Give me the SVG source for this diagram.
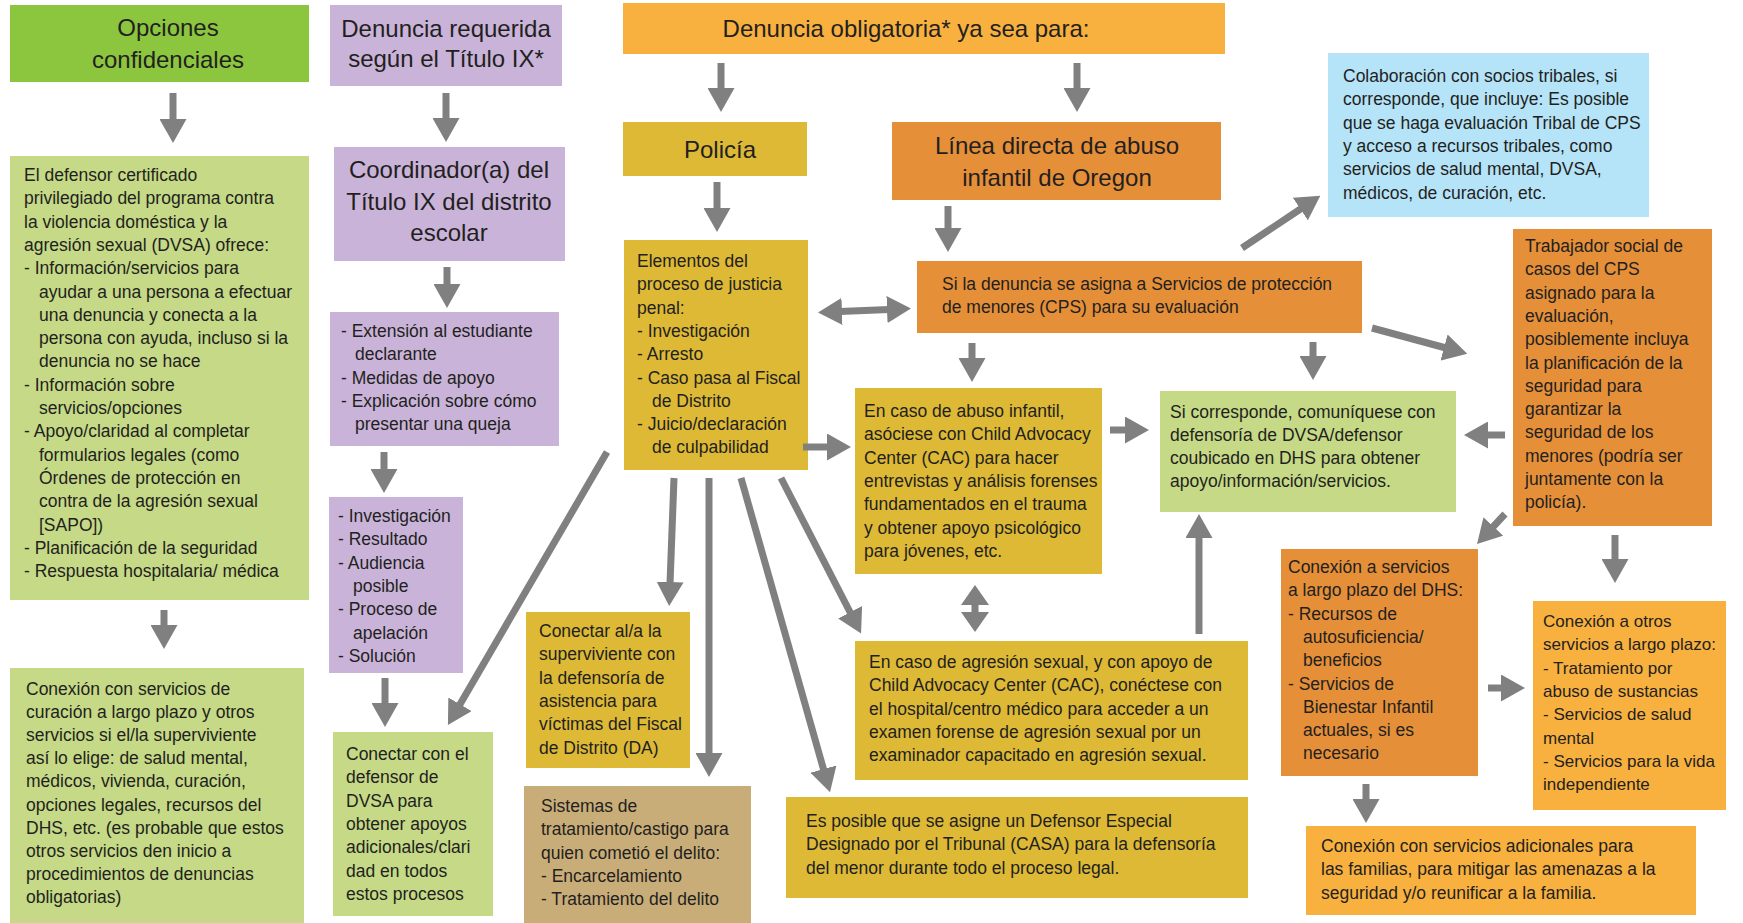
<svg xmlns="http://www.w3.org/2000/svg" width="1743" height="923" viewBox="0 0 1743 923">
<style>
.t{font-family:"Liberation Sans",Arial,sans-serif;font-size:17.5px;fill:#231f20}
.s{font-size:17px}
.h{font-family:"Liberation Sans",Arial,sans-serif;font-size:24px;fill:#231f20;text-anchor:middle}
.green{fill:#8cc63f}.lgreen{fill:#c5d986}.purple{fill:#c9b3d9}.yorange{fill:#f8b13f}
.gold{fill:#ddb935}.orange{fill:#e58f39}.blue{fill:#b5e3f8}.tan{fill:#c9ad78}
.conn line{stroke:#808080;stroke-width:7;marker-end:url(#ah)}
.conn line.dbl{marker-start:url(#ah)}
</style>
<defs>
<marker id="ah" markerUnits="userSpaceOnUse" markerWidth="24" markerHeight="27" refX="2" refY="13.5" orient="auto-start-reverse" viewBox="0 0 24 27">
<path d="M0,0 L24,13.5 L0,27 z" fill="#808080"/>
</marker>
</defs>
<rect width="1743" height="923" fill="#ffffff"/>

<g id="opciones"><rect class="green" x="10" y="5" width="299" height="77"/>
<text class="h" x="168" y="36">Opciones</text><text class="h" x="168" y="68">confidenciales</text></g>

<g id="denuncia-requerida"><rect class="purple" x="330" y="5" width="232" height="81"/>
<text class="h" x="446" y="37">Denuncia requerida</text><text class="h" x="446" y="67">según el Título IX*</text></g>

<g id="denuncia-obligatoria"><rect class="yorange" x="623" y="3" width="602" height="51"/>
<text class="h" x="906" y="37">Denuncia obligatoria* ya sea para:</text></g>

<g id="defensor"><rect class="lgreen" x="10" y="156" width="299" height="444"/>
<text class="t" y="181">
<tspan x="24">El defensor certificado</tspan>
<tspan x="24" dy="23.3">privilegiado del programa contra</tspan>
<tspan x="24" dy="23.3">la violencia doméstica y la</tspan>
<tspan x="24" dy="23.3">agresión sexual (DVSA) ofrece:</tspan>
<tspan x="24" dy="23.3">- Información/servicios para</tspan>
<tspan x="39" dy="23.3">ayudar a una persona a efectuar</tspan>
<tspan x="39" dy="23.3">una denuncia y conecta a la</tspan>
<tspan x="39" dy="23.3">persona con ayuda, incluso si la</tspan>
<tspan x="39" dy="23.3">denuncia no se hace</tspan>
<tspan x="24" dy="23.3">- Información sobre</tspan>
<tspan x="39" dy="23.3">servicios/opciones</tspan>
<tspan x="24" dy="23.3">- Apoyo/claridad al completar</tspan>
<tspan x="39" dy="23.3">formularios legales (como</tspan>
<tspan x="39" dy="23.3">Órdenes de protección en</tspan>
<tspan x="39" dy="23.3">contra de la agresión sexual</tspan>
<tspan x="39" dy="23.3">[SAPO])</tspan>
<tspan x="24" dy="23.3">- Planificación de la seguridad</tspan>
<tspan x="24" dy="23.3">- Respuesta hospitalaria/ médica</tspan>
</text></g>

<g id="curacion"><rect class="lgreen" x="10" y="668" width="294" height="255"/>
<text class="t" y="695">
<tspan x="26">Conexión con servicios de</tspan>
<tspan x="26" dy="23.1">curación a largo plazo y otros</tspan>
<tspan x="26" dy="23.1">servicios si el/la superviviente</tspan>
<tspan x="26" dy="23.1">así lo elige: de salud mental,</tspan>
<tspan x="26" dy="23.1">médicos, vivienda, curación,</tspan>
<tspan x="26" dy="23.1">opciones legales, recursos del</tspan>
<tspan x="26" dy="23.1">DHS, etc. (es probable que estos</tspan>
<tspan x="26" dy="23.1">otros servicios den inicio a</tspan>
<tspan x="26" dy="23.1">procedimientos de denuncias</tspan>
<tspan x="26" dy="23.1">obligatorias)</tspan>
</text></g>

<g id="coordinador"><rect class="purple" x="334" y="147" width="231" height="114"/>
<text class="h" x="449" y="178">Coordinador(a) del</text><text class="h" x="449" y="210">Título IX del distrito</text><text class="h" x="449" y="241">escolar</text></g>

<g id="extension"><rect class="purple" x="330" y="312" width="229" height="134"/>
<text class="t" y="337">
<tspan x="341">- Extensión al estudiante</tspan>
<tspan x="355" dy="23.3">declarante</tspan>
<tspan x="341" dy="23.3">- Medidas de apoyo</tspan>
<tspan x="341" dy="23.3">- Explicación sobre cómo</tspan>
<tspan x="355" dy="23.3">presentar una queja</tspan>
</text></g>

<g id="investigacion"><rect class="purple" x="329" y="497" width="134" height="176"/>
<text class="t" y="522">
<tspan x="338">- Investigación</tspan>
<tspan x="338" dy="23.3">- Resultado</tspan>
<tspan x="338" dy="23.3">- Audiencia</tspan>
<tspan x="353" dy="23.3">posible</tspan>
<tspan x="338" dy="23.3">- Proceso de</tspan>
<tspan x="353" dy="23.3">apelación</tspan>
<tspan x="338" dy="23.3">- Solución</tspan>
</text></g>

<g id="conectar-dvsa"><rect class="lgreen" x="333" y="732" width="160" height="184"/>
<text class="t" y="760">
<tspan x="346">Conectar con el</tspan>
<tspan x="346" dy="23.3">defensor de</tspan>
<tspan x="346" dy="23.3">DVSA para</tspan>
<tspan x="346" dy="23.3">obtener apoyos</tspan>
<tspan x="346" dy="23.3">adicionales/clari</tspan>
<tspan x="346" dy="23.3">dad en todos</tspan>
<tspan x="346" dy="23.3">estos procesos</tspan>
</text></g>

<g id="policia"><rect class="gold" x="623" y="122" width="184" height="54"/>
<text class="h" x="720" y="158">Policía</text></g>

<g id="linea-directa"><rect class="orange" x="892" y="122" width="329" height="78"/>
<text class="h" x="1057" y="154">Línea directa de abuso</text><text class="h" x="1057" y="186">infantil de Oregon</text></g>

<g id="elementos"><rect class="gold" x="624" y="240" width="184" height="230"/>
<text class="t" y="267">
<tspan x="637">Elementos del</tspan>
<tspan x="637" dy="23.3">proceso de justicia</tspan>
<tspan x="637" dy="23.3">penal:</tspan>
<tspan x="637" dy="23.3">- Investigación</tspan>
<tspan x="637" dy="23.3">- Arresto</tspan>
<tspan x="637" dy="23.3">- Caso pasa al Fiscal</tspan>
<tspan x="652" dy="23.3">de Distrito</tspan>
<tspan x="637" dy="23.3">- Juicio/declaración</tspan>
<tspan x="652" dy="23.3">de culpabilidad</tspan>
</text></g>

<g id="cps"><rect class="orange" x="917" y="261" width="445" height="72"/>
<text class="t" y="290">
<tspan x="942">Si la denuncia se asigna a Servicios de protección</tspan>
<tspan x="942" dy="23.3">de menores (CPS) para su evaluación</tspan>
</text></g>

<g id="cac"><rect class="gold" x="855" y="388" width="247" height="186"/>
<text class="t" y="417">
<tspan x="864">En caso de abuso infantil,</tspan>
<tspan x="864" dy="23.3">asóciese con Child Advocacy</tspan>
<tspan x="864" dy="23.3">Center (CAC) para hacer</tspan>
<tspan x="864" dy="23.3">entrevistas y análisis forenses</tspan>
<tspan x="864" dy="23.3">fundamentados en el trauma</tspan>
<tspan x="864" dy="23.3">y obtener apoyo psicológico</tspan>
<tspan x="864" dy="23.3">para jóvenes, etc.</tspan>
</text></g>

<g id="agresion"><rect class="gold" x="855" y="641" width="393" height="139"/>
<text class="t" y="668">
<tspan x="869">En caso de agresión sexual, y con apoyo de</tspan>
<tspan x="869" dy="23.3">Child Advocacy Center (CAC), conéctese con</tspan>
<tspan x="869" dy="23.3">el hospital/centro médico para acceder a un</tspan>
<tspan x="869" dy="23.3">examen forense de agresión sexual por un</tspan>
<tspan x="869" dy="23.3">examinador capacitado en agresión sexual.</tspan>
</text></g>

<g id="casa"><rect class="gold" x="786" y="797" width="462" height="101"/>
<text class="t" y="827">
<tspan x="806">Es posible que se asigne un Defensor Especial</tspan>
<tspan x="806" dy="23.3">Designado por el Tribunal (CASA) para la defensoría</tspan>
<tspan x="806" dy="23.3">del menor durante todo el proceso legal.</tspan>
</text></g>

<g id="conectar-superviviente"><rect class="gold" x="526" y="612" width="164" height="156"/>
<text class="t" y="637">
<tspan x="539">Conectar al/a la</tspan>
<tspan x="539" dy="23.3">superviviente con</tspan>
<tspan x="539" dy="23.3">la defensoría de</tspan>
<tspan x="539" dy="23.3">asistencia para</tspan>
<tspan x="539" dy="23.3">víctimas del Fiscal</tspan>
<tspan x="539" dy="23.3">de Distrito (DA)</tspan>
</text></g>

<g id="sistemas"><rect class="tan" x="524" y="786" width="227" height="137"/>
<text class="t" y="812">
<tspan x="541">Sistemas de</tspan>
<tspan x="541" dy="23.3">tratamiento/castigo para</tspan>
<tspan x="541" dy="23.3">quien cometió el delito:</tspan>
<tspan x="541" dy="23.3">- Encarcelamiento</tspan>
<tspan x="541" dy="23.3">- Tratamiento del delito</tspan>
</text></g>

<g id="dvsa-dhs"><rect class="lgreen" x="1160" y="391" width="296" height="121"/>
<text class="t" y="418">
<tspan x="1170">Si corresponde, comuníquese con</tspan>
<tspan x="1170" dy="23">defensoría de DVSA/defensor</tspan>
<tspan x="1170" dy="23">coubicado en DHS para obtener</tspan>
<tspan x="1170" dy="23">apoyo/información/servicios.</tspan>
</text></g>

<g id="tribal"><rect class="blue" x="1328" y="53" width="321" height="164"/>
<text class="t" y="82">
<tspan x="1343">Colaboración con socios tribales, si</tspan>
<tspan x="1343" dy="23.3">corresponde, que incluye: Es posible</tspan>
<tspan x="1343" dy="23.3">que se haga evaluación Tribal de CPS</tspan>
<tspan x="1343" dy="23.3">y acceso a recursos tribales, como</tspan>
<tspan x="1343" dy="23.3">servicios de salud mental, DVSA,</tspan>
<tspan x="1343" dy="23.3">médicos, de curación, etc.</tspan>
</text></g>

<g id="trabajador"><rect class="orange" x="1513" y="229" width="199" height="297"/>
<text class="t" y="252">
<tspan x="1525">Trabajador social de</tspan>
<tspan x="1525" dy="23.3">casos del CPS</tspan>
<tspan x="1525" dy="23.3">asignado para la</tspan>
<tspan x="1525" dy="23.3">evaluación,</tspan>
<tspan x="1525" dy="23.3">posiblemente incluya</tspan>
<tspan x="1525" dy="23.3">la planificación de la</tspan>
<tspan x="1525" dy="23.3">seguridad para</tspan>
<tspan x="1525" dy="23.3">garantizar la</tspan>
<tspan x="1525" dy="23.3">seguridad de los</tspan>
<tspan x="1525" dy="23.3">menores (podría ser</tspan>
<tspan x="1525" dy="23.3">juntamente con la</tspan>
<tspan x="1525" dy="23.3">policía).</tspan>
</text></g>

<g id="dhs"><rect class="orange" x="1281" y="549" width="197" height="227"/>
<text class="t" y="573">
<tspan x="1288">Conexión a servicios</tspan>
<tspan x="1288" dy="23.3">a largo plazo del DHS:</tspan>
<tspan x="1288" dy="23.3">- Recursos de</tspan>
<tspan x="1303" dy="23.3">autosuficiencia/</tspan>
<tspan x="1303" dy="23.3">beneficios</tspan>
<tspan x="1288" dy="23.3">- Servicios de</tspan>
<tspan x="1303" dy="23.3">Bienestar Infantil</tspan>
<tspan x="1303" dy="23.3">actuales, si es</tspan>
<tspan x="1303" dy="23.3">necesario</tspan>
</text></g>

<g id="otros"><rect class="yorange" x="1533" y="601" width="193" height="209"/>
<text class="t s" y="627">
<tspan x="1543">Conexión a otros</tspan>
<tspan x="1543" dy="23.3">servicios a largo plazo:</tspan>
<tspan x="1543" dy="23.3">- Tratamiento por</tspan>
<tspan x="1543" dy="23.3">abuso de sustancias</tspan>
<tspan x="1543" dy="23.3">- Servicios de salud</tspan>
<tspan x="1543" dy="23.3">mental</tspan>
<tspan x="1543" dy="23.3">- Servicios para la vida</tspan>
<tspan x="1543" dy="23.3">independiente</tspan>
</text></g>

<g id="adicionales"><rect class="yorange" x="1306" y="826" width="390" height="89"/>
<text class="t" y="852">
<tspan x="1321">Conexión con servicios adicionales para</tspan>
<tspan x="1321" dy="23.3">las familias, para mitigar las amenazas a la</tspan>
<tspan x="1321" dy="23.3">seguridad y/o reunificar a la familia.</tspan>
</text></g>

<g id="connectors" class="conn">
<line x1="173" y1="93" x2="173" y2="121"/>
<line x1="446" y1="93" x2="446" y2="120"/>
<line x1="164" y1="610" x2="164" y2="627"/>
<line x1="447" y1="267" x2="447" y2="286"/>
<line x1="384" y1="452" x2="384" y2="471"/>
<line x1="385" y1="678" x2="385" y2="705"/>
<line x1="607" y1="452" x2="459" y2="706"/>
<line x1="721" y1="63" x2="721" y2="90"/>
<line x1="1077" y1="63" x2="1077" y2="90"/>
<line x1="717" y1="182" x2="717" y2="210"/>
<line x1="948" y1="206" x2="948" y2="230"/>
<line class="dbl" x1="840" y1="311.5" x2="889" y2="309.5"/>
<line x1="972" y1="343" x2="972" y2="360"/>
<line x1="803" y1="447" x2="829" y2="447"/>
<line x1="1110" y1="430" x2="1127" y2="430"/>
<line x1="674" y1="478" x2="670" y2="584"/>
<line x1="709" y1="478" x2="709" y2="755"/>
<line x1="741" y1="478" x2="824" y2="771"/>
<line x1="781" y1="478" x2="851" y2="614"/>
<polygon points="975,585 989,605 978.5,605 978.5,612 989,612 975,632 961,612 971.5,612 971.5,605 961,605" fill="#808080"/>
<line x1="1199" y1="634" x2="1199" y2="536"/>
<line x1="1313" y1="342" x2="1313" y2="358"/>
<line x1="1372" y1="328" x2="1446" y2="348"/>
<line x1="1242" y1="248" x2="1302" y2="208"/>
<line x1="1505" y1="435" x2="1486" y2="435"/>
<line x1="1505" y1="514" x2="1492" y2="528"/>
<line x1="1615" y1="535" x2="1615" y2="561"/>
<line x1="1488" y1="688" x2="1503" y2="688"/>
<line x1="1366" y1="784" x2="1366" y2="801"/>
</g>
</svg>
